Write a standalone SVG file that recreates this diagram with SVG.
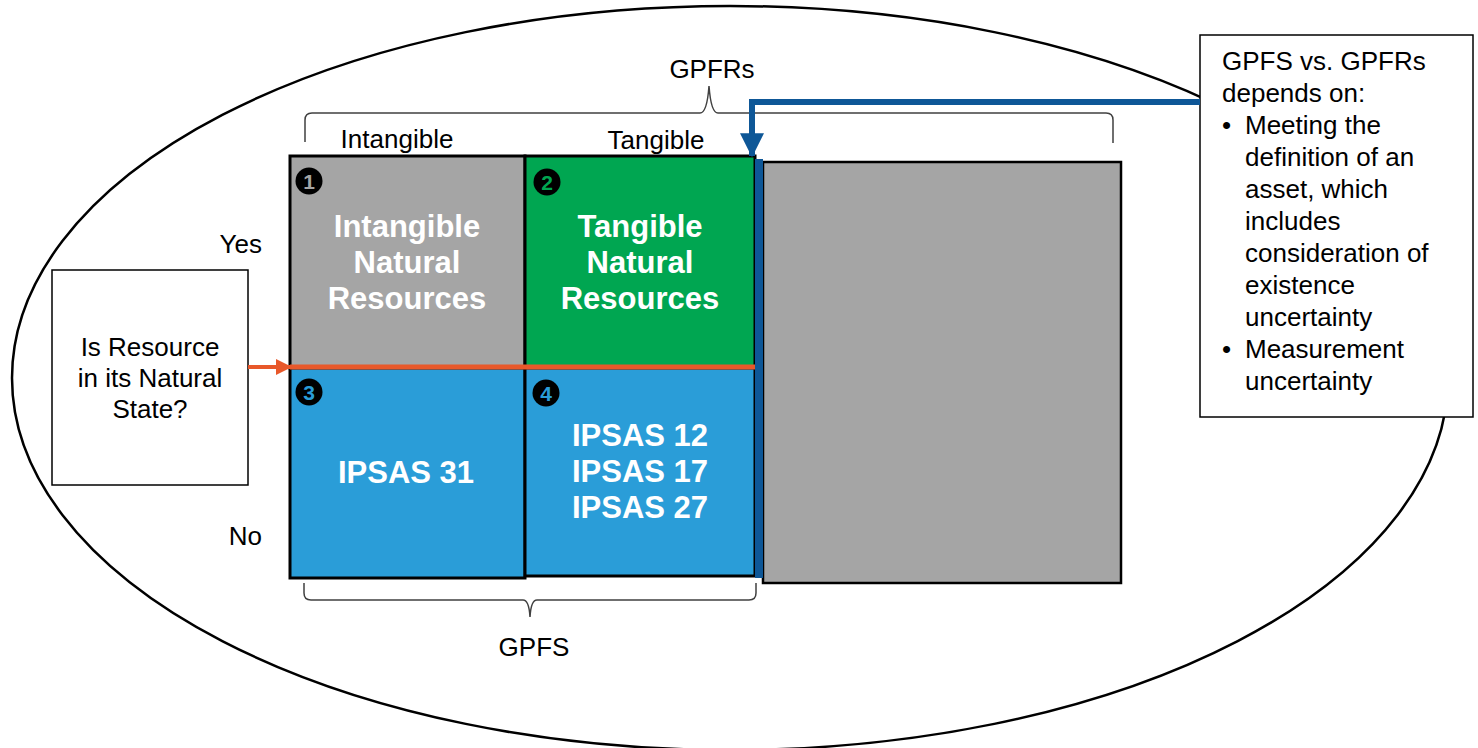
<svg xmlns="http://www.w3.org/2000/svg" width="1478" height="748" viewBox="0 0 1478 748">
<defs>
<style>
.t{font-family:"Liberation Sans",Arial,sans-serif;font-size:26px;fill:#000}
.b{font-family:"Liberation Sans",Arial,sans-serif;font-size:31px;font-weight:bold;fill:#fff;text-anchor:middle}
.nc{fill:#000}
.nd{font-family:"Liberation Sans",Arial,sans-serif;font-size:21px;font-weight:bold;text-anchor:middle}
.cell{stroke:#000;stroke-width:3}
.br{fill:none;stroke:#404040;stroke-width:1.5}
</style>
<marker id="ao" markerWidth="4" markerHeight="4" refX="3.5" refY="2" orient="auto" markerUnits="strokeWidth">
<path d="M0,0 L4,2 L0,4 Z" fill="#E8582A"/>
</marker>
<marker id="ab" markerWidth="4" markerHeight="4" refX="3.8" refY="2" orient="auto" markerUnits="strokeWidth">
<path d="M0,0 L4,2 L0,4 Z" fill="#0E5797"/>
</marker>
</defs>
<rect width="1478" height="748" fill="#fff"/>
<ellipse id="scope" cx="730" cy="378" rx="718" ry="372" fill="none" stroke="#000" stroke-width="2.5"/>

<g id="labels">
<text class="t" x="712" y="78" text-anchor="middle">GPFRs</text>
<text class="t" x="397" y="148" text-anchor="middle">Intangible</text>
<text class="t" x="656" y="149" text-anchor="middle">Tangible</text>
<text class="t" x="262" y="253" text-anchor="end">Yes</text>
<text class="t" x="262" y="545" text-anchor="end">No</text>
<text class="t" x="534" y="656" text-anchor="middle">GPFS</text>
</g>

<g id="brackets">
<path class="br" d="M305,142 L305,120 Q305,113 312,113 L700,113 Q707,113 709,86 Q711,113 718,113 L1106,113 Q1113,113 1113,120 L1113,143"/>
<path class="br" d="M304,583 L304,593 Q304,600 311,600 L523,600 Q529,600 530,617 Q531,600 537,600 L749,600 Q756,600 756,593 L756,583"/>
</g>

<g id="right-box">
<rect x="763" y="162" width="358" height="421" fill="#A5A5A5" stroke="#000" stroke-width="2.5"/>
</g>

<g id="cell1">
<rect class="cell" x="290" y="156" width="235" height="212" fill="#A5A5A5"/>
<circle class="nc" cx="309" cy="181" r="13.5"/>
<text class="nd" x="309" y="188.5" fill="#A5A5A5">1</text>
<text class="b" x="407" y="237">Intangible</text>
<text class="b" x="407" y="273">Natural</text>
<text class="b" x="407" y="309">Resources</text>
</g>
<g id="cell2">
<rect class="cell" x="525" y="156" width="230" height="212" fill="#00A651"/>
<circle class="nc" cx="547" cy="182" r="13.5"/>
<text class="nd" x="547" y="189.5" fill="#00A651">2</text>
<text class="b" x="640" y="237">Tangible</text>
<text class="b" x="640" y="273">Natural</text>
<text class="b" x="640" y="309">Resources</text>
</g>
<g id="cell3">
<rect class="cell" x="290" y="368" width="235" height="210" fill="#2A9DD8"/>
<circle class="nc" cx="309" cy="392" r="13.5"/>
<text class="nd" x="309" y="399.5" fill="#2A9DD8">3</text>
<text class="b" x="406" y="483">IPSAS 31</text>
</g>
<g id="cell4">
<rect class="cell" x="525" y="368" width="230" height="208" fill="#2A9DD8"/>
<circle class="nc" cx="546" cy="393" r="13.5"/>
<text class="nd" x="546" y="400.5" fill="#2A9DD8">4</text>
<text class="b" x="640" y="446">IPSAS 12</text>
<text class="b" x="640" y="482">IPSAS 17</text>
<text class="b" x="640" y="518">IPSAS 27</text>
</g>

<g id="question">
<rect x="52" y="270" width="196" height="215" fill="#fff" stroke="#000" stroke-width="1.5"/>
<text class="t" x="150" y="356" text-anchor="middle">Is Resource</text>
<text class="t" x="150" y="387" text-anchor="middle">in its Natural</text>
<text class="t" x="150" y="418" text-anchor="middle">State?</text>
</g>

<g id="note">
<rect x="1200" y="35" width="273" height="382" fill="#fff" stroke="#000" stroke-width="1.5"/>
<text class="t" x="1222" y="70">GPFS vs. GPFRs</text>
<text class="t" x="1222" y="102">depends on:</text>
<text class="t" x="1222" y="134">•</text>
<text class="t" x="1245" y="134">Meeting the</text>
<text class="t" x="1245" y="166">definition of an</text>
<text class="t" x="1245" y="198">asset, which</text>
<text class="t" x="1245" y="230">includes</text>
<text class="t" x="1245" y="262">consideration of</text>
<text class="t" x="1245" y="294">existence</text>
<text class="t" x="1245" y="326">uncertainty</text>
<text class="t" x="1222" y="358">•</text>
<text class="t" x="1245" y="358">Measurement</text>
<text class="t" x="1245" y="390">uncertainty</text>
</g>

<g id="connectors">
<line x1="290" y1="367" x2="755" y2="367" stroke="#E8582A" stroke-width="5"/>
<line x1="248" y1="367" x2="290" y2="367" stroke="#E8582A" stroke-width="4" marker-end="url(#ao)"/>
<rect x="755" y="159" width="8" height="419" fill="#0E5797"/>
<path d="M1200,102 L752,102 L752,156" fill="none" stroke="#0E5797" stroke-width="6" marker-end="url(#ab)"/>
</g>
</svg>
